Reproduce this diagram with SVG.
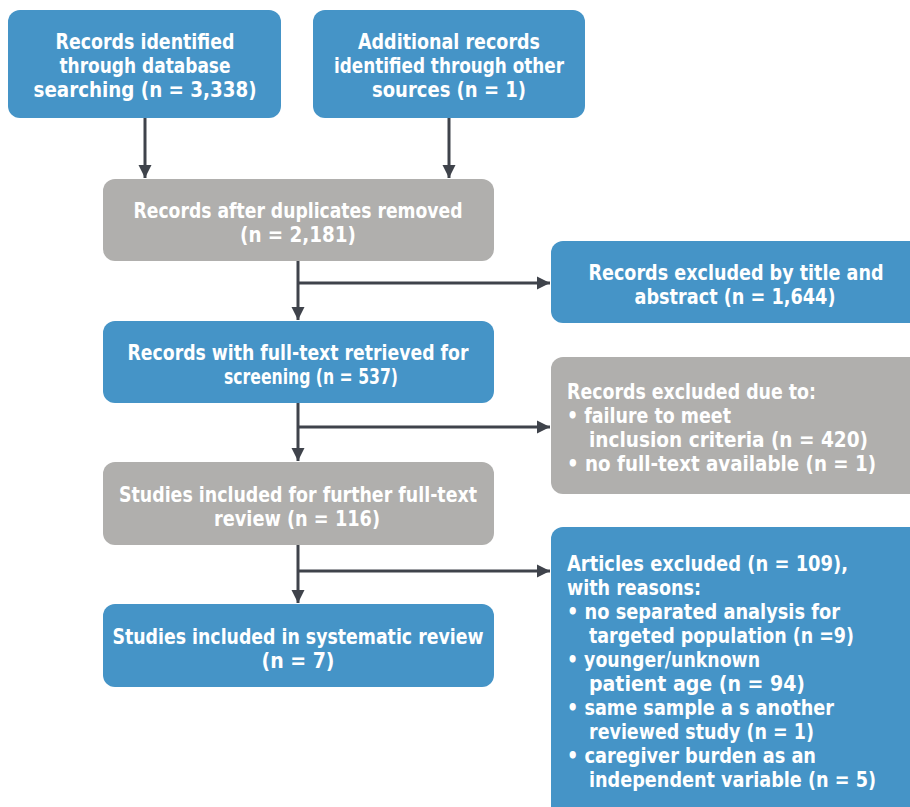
<svg xmlns="http://www.w3.org/2000/svg" width="910" height="807" viewBox="0 0 910 807">
<defs>
<style>
.blue{fill:#4594c7}
.gray{fill:#b0afad}
text{font-family:"Liberation Sans Narrow","DejaVu Sans Condensed","Liberation Sans",sans-serif;font-weight:bold;font-size:22px;fill:#ffffff}
.c{text-anchor:middle}
.conn line{stroke:#3f434b;stroke-width:3}
</style>
<marker id="ah" viewBox="0 0 10 10" refX="10" refY="5" markerWidth="4.5" markerHeight="4.5" markerUnits="strokeWidth" orient="auto">
<path d="M0,0 L10,5 L0,10 z" fill="#3f434b"/>
</marker>
</defs>
<rect width="910" height="807" fill="#ffffff"/>
<g id="n1">
<rect class="blue" x="8" y="10" width="273" height="108" rx="12"/>
<text class="c" x="145" y="49" textLength="179" lengthAdjust="spacingAndGlyphs">Records identified</text>
<text class="c" x="145" y="73" textLength="171" lengthAdjust="spacingAndGlyphs">through database</text>
<text class="c" x="145" y="97" textLength="223" lengthAdjust="spacingAndGlyphs">searching (n = 3,338)</text>
</g>
<g id="n2">
<rect class="blue" x="313" y="10" width="272" height="108" rx="12"/>
<text class="c" x="449" y="49" textLength="182" lengthAdjust="spacingAndGlyphs">Additional records</text>
<text class="c" x="449" y="73" textLength="230" lengthAdjust="spacingAndGlyphs">identified through other</text>
<text class="c" x="449" y="97" textLength="154" lengthAdjust="spacingAndGlyphs">sources (n = 1)</text>
</g>
<g id="n3">
<rect class="gray" x="103" y="179" width="391" height="82" rx="12"/>
<text class="c" x="298" y="218" textLength="329" lengthAdjust="spacingAndGlyphs">Records after duplicates removed</text>
<text class="c" x="298" y="242" textLength="116" lengthAdjust="spacingAndGlyphs">(n = 2,181)</text>
</g>
<g id="n4">
<rect class="blue" x="551" y="241" width="380" height="82" rx="12"/>
<text class="c" x="736" y="280" textLength="295" lengthAdjust="spacingAndGlyphs">Records excluded by title and</text>
<text class="c" x="735" y="304" textLength="201" lengthAdjust="spacingAndGlyphs">abstract (n = 1,644)</text>
</g>
<g id="n5">
<rect class="blue" x="103" y="321" width="391" height="82" rx="12"/>
<text class="c" x="298" y="360" textLength="341" lengthAdjust="spacingAndGlyphs">Records with full-text retrieved for</text>
<text class="c" x="311" y="384" textLength="174" lengthAdjust="spacingAndGlyphs">screening (n = 537)</text>
</g>
<g id="n6">
<rect class="gray" x="551" y="357" width="380" height="137" rx="12"/>
<text x="567" y="399" textLength="249" lengthAdjust="spacingAndGlyphs">Records excluded due to:</text>
<text x="567" y="423" textLength="164" lengthAdjust="spacingAndGlyphs">• failure to meet</text>
<text x="589" y="447" textLength="279" lengthAdjust="spacingAndGlyphs">inclusion criteria (n = 420)</text>
<text x="567" y="471" textLength="309" lengthAdjust="spacingAndGlyphs">• no full-text available (n = 1)</text>
</g>
<g id="n7">
<rect class="gray" x="103" y="462" width="391" height="83" rx="12"/>
<text class="c" x="298" y="502" textLength="358" lengthAdjust="spacingAndGlyphs">Studies included for further full-text</text>
<text class="c" x="297" y="526" textLength="166" lengthAdjust="spacingAndGlyphs">review (n = 116)</text>
</g>
<g id="n8">
<rect class="blue" x="551" y="527" width="380" height="300" rx="12"/>
<text x="567" y="571" textLength="281" lengthAdjust="spacingAndGlyphs">Articles excluded (n = 109),</text>
<text x="567" y="595" textLength="134" lengthAdjust="spacingAndGlyphs">with reasons:</text>
<text x="567" y="619" textLength="273" lengthAdjust="spacingAndGlyphs">• no separated analysis for</text>
<text x="589" y="643" textLength="265" lengthAdjust="spacingAndGlyphs">targeted population (n =9)</text>
<text x="567" y="667" textLength="193" lengthAdjust="spacingAndGlyphs">• younger/unknown</text>
<text x="589" y="691" textLength="216" lengthAdjust="spacingAndGlyphs">patient age (n = 94)</text>
<text x="567" y="715" textLength="267" lengthAdjust="spacingAndGlyphs">• same sample a s another</text>
<text x="589" y="739" textLength="225" lengthAdjust="spacingAndGlyphs">reviewed study (n = 1)</text>
<text x="567" y="763" textLength="249" lengthAdjust="spacingAndGlyphs">• caregiver burden as an</text>
<text x="589" y="787" textLength="287" lengthAdjust="spacingAndGlyphs">independent variable (n = 5)</text>
</g>
<g id="n9">
<rect class="blue" x="103" y="604" width="391" height="83" rx="12"/>
<text class="c" x="298" y="644" textLength="371" lengthAdjust="spacingAndGlyphs">Studies included in systematic review</text>
<text class="c" x="298" y="668" textLength="73" lengthAdjust="spacingAndGlyphs">(n = 7)</text>
</g>
<g id="connectors" class="conn">
<line x1="145" y1="118" x2="145" y2="178" marker-end="url(#ah)"/>
<line x1="449" y1="118" x2="449" y2="178" marker-end="url(#ah)"/>
<line x1="298" y1="261" x2="298" y2="320" marker-end="url(#ah)"/>
<line x1="298" y1="283" x2="550" y2="283" marker-end="url(#ah)"/>
<line x1="298" y1="403" x2="298" y2="461" marker-end="url(#ah)"/>
<line x1="298" y1="427" x2="550" y2="427" marker-end="url(#ah)"/>
<line x1="298" y1="545" x2="298" y2="603" marker-end="url(#ah)"/>
<line x1="298" y1="571" x2="550" y2="571" marker-end="url(#ah)"/>
</g>
</svg>
